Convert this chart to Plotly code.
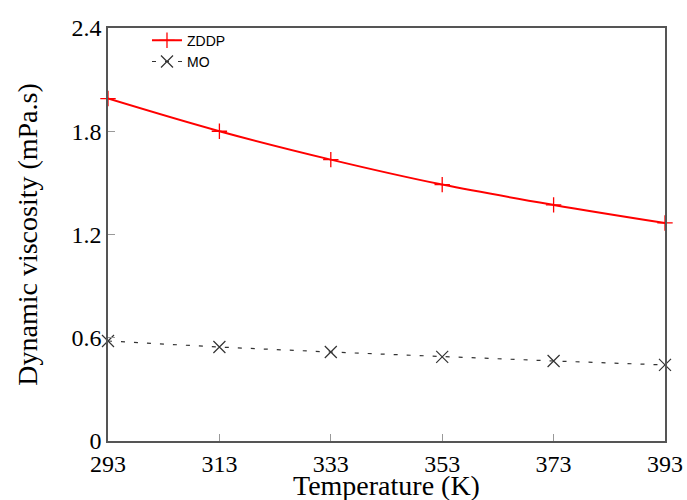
import plotly.graph_objects as go

temperature = [293, 313, 333, 353, 373, 393]
zddp = [1.99, 1.80, 1.635, 1.49, 1.372, 1.267]
mo = [0.581, 0.546, 0.517, 0.489, 0.465, 0.442]
y_ticks = [0, 0.6, 1.2, 1.8, 2.4]
y_tick_labels = ["0", "0.6", "1.2", "1.8", "2.4"]
x_title = "Temperature (K)"
y_title = "Dynamic viscosity (mPa.s)"

fig = go.Figure()
fig.add_trace(go.Scatter(
    x=temperature, y=zddp, name="ZDDP", mode="lines+markers", cliponaxis=False,
    line=dict(color="#ff0000", width=2, shape="spline"),
    marker=dict(symbol="cross-thin-open", size=11, line=dict(color="#ff0000", width=1.3)),
))
fig.add_trace(go.Scatter(
    x=temperature, y=mo, name="MO", mode="lines+markers", cliponaxis=False,
    line=dict(color="#333333", width=1.2, dash="4px,9px"),
    marker=dict(symbol="x-thin-open", size=12, line=dict(color="#222222", width=1.2)),
))

tick_font = dict(family="Liberation Serif, Times New Roman, serif", size=24, color="black")
title_font = dict(family="Liberation Serif, Times New Roman, serif", size=28, color="black")
fig.update_layout(
    width=687, height=500,
    margin=dict(l=108, r=22, t=28, b=59),
    plot_bgcolor="white", paper_bgcolor="white",
    showlegend=True,
    legend=dict(x=0.07, y=1.008, xanchor="left", yanchor="top",
                font=dict(family="Liberation Sans, Arial, sans-serif", size=14, color="black"),
                bgcolor="rgba(0,0,0,0)", tracegroupgap=0),
    xaxis=dict(range=[293, 393], tickvals=temperature, ticks="inside", ticklen=7,
               tickcolor="#999999", showline=True, linecolor="#555555", linewidth=1.5,
               mirror=True, showgrid=False, zeroline=False, tickfont=tick_font,
               automargin=False),
    yaxis=dict(range=[0, 2.4], tickvals=y_ticks, ticktext=y_tick_labels, ticks="inside",
               ticklen=7, tickcolor="#999999", showline=True, linecolor="#555555",
               linewidth=1.5, mirror=True, showgrid=False, zeroline=False, tickfont=tick_font,
               automargin=False,
               title=dict(text=y_title, font=title_font, standoff=26)),
    annotations=[dict(text=x_title, xref="paper", yref="paper", x=0.5, y=-0.108,
                      xanchor="center", yanchor="middle", showarrow=False, font=title_font)],
)
fig.write_html("out.html", config={"displayModeBar": False},
               post_script="document.body.style.margin='0px';")
